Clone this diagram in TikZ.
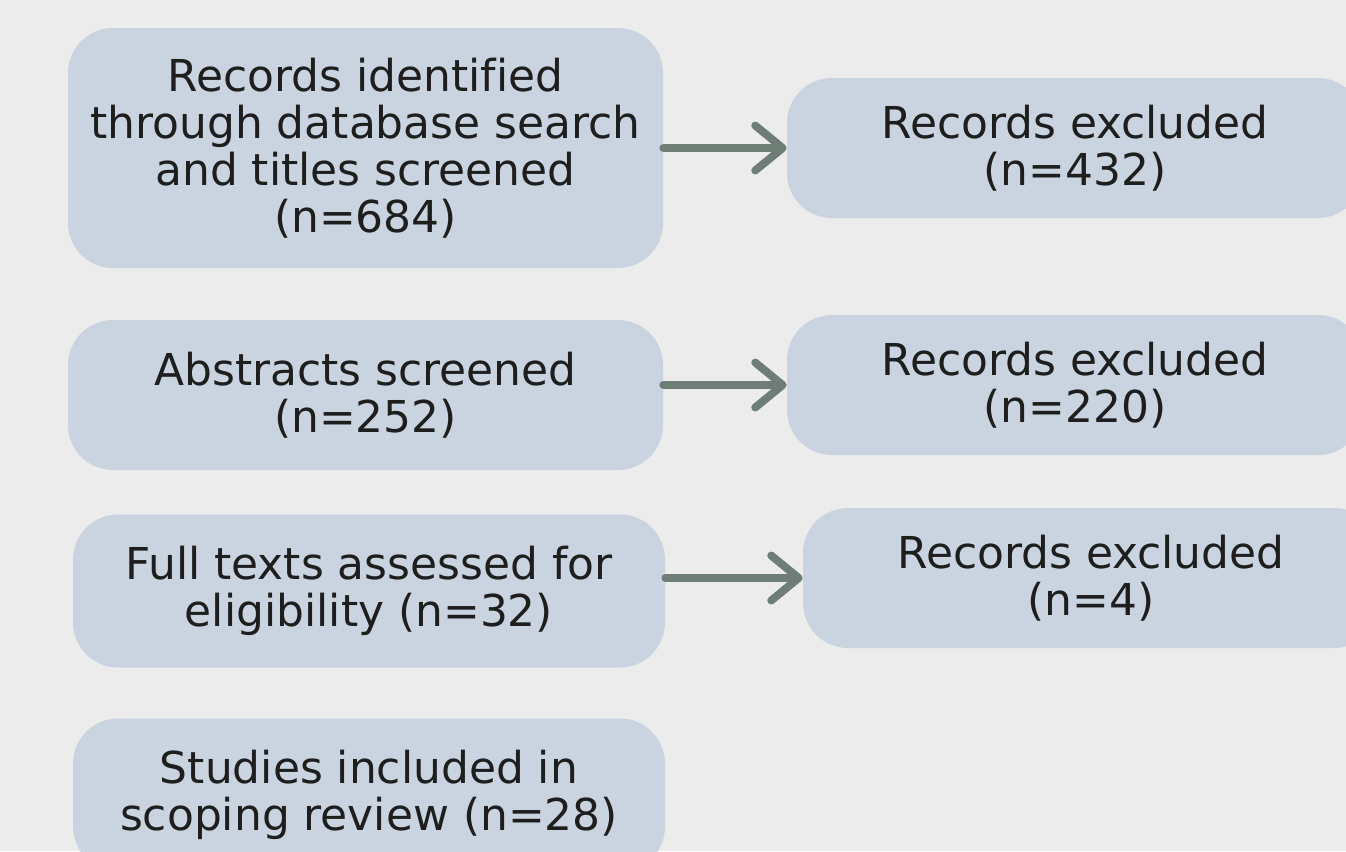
\documentclass[tikz,border=0pt]{standalone}
\usepackage{fontspec}
\setmainfont[Ligatures=NoCommon]{DejaVu Sans}
\usepackage{xcolor}
\usetikzlibrary{arrows.meta}

\definecolor{bgcol}{HTML}{ECECEC}
\definecolor{boxcol}{HTML}{CAD4E0}
\definecolor{arrcol}{HTML}{6F7D77}
\definecolor{txtcol}{HTML}{1E1E1E}

\begin{document}
\begin{tikzpicture}[
    box/.style={fill=boxcol, rounded corners=0.9cm, align=center, text=txtcol,
                font=\fontsize{25}{26.8}\selectfont, inner sep=0pt},
    arr/.style={draw=arrcol, line width=4.5pt, line cap=round,
                -{Straight Barb[length=0.55cm, width=0.9cm, line join=round, line cap=round]}}
]
            \useasboundingbox (0, 0) rectangle (26.92, -17.02);
            \clip (0, 0) rectangle (26.92, -17.02);
            \fill[bgcol] (0, 0) rectangle (26.92, -17.02);

            % left column
            \node[box, minimum width=11.9cm, minimum height=4.8cm] (ident) at (7.31, -2.96)
                {Records identified\\through database search\\and titles screened\\(n=684)};
            \node[box, minimum width=11.9cm, minimum height=3.0cm] (abstr) at (7.31, -7.9)
                {Abstracts screened\\(n=252)};
            \node[box, minimum width=11.84cm, minimum height=3.06cm] (full) at (7.38, -11.82)
                {Full texts assessed for\\eligibility (n=32)};
            \node[box, minimum width=11.84cm, minimum height=3.06cm] (incl) at (7.38, -15.9)
                {Studies included in\\scoping review (n=28)};

            % right column
            \node[box, minimum width=11.52cm, minimum height=2.8cm] (excl1) at (21.5, -2.96)
                {Records excluded\\(n=432)};
            \node[box, minimum width=11.52cm, minimum height=2.8cm] (excl2) at (21.5, -7.7)
                {Records excluded\\(n=220)};
            \node[box, minimum width=11.52cm, minimum height=2.8cm] (excl3) at (21.82, -11.56)
                {Records excluded\\(n=4)};

            \draw[arr] (ident.east |- excl1.west) -- (excl1.west); % ident-excl1
            \draw[arr] (abstr.east |- excl2.west) -- (excl2.west); % abstr-excl2
            \draw[arr] (full.east |- excl3.west) -- (excl3.west); % full-excl3
        \end{tikzpicture}
\end{document}
